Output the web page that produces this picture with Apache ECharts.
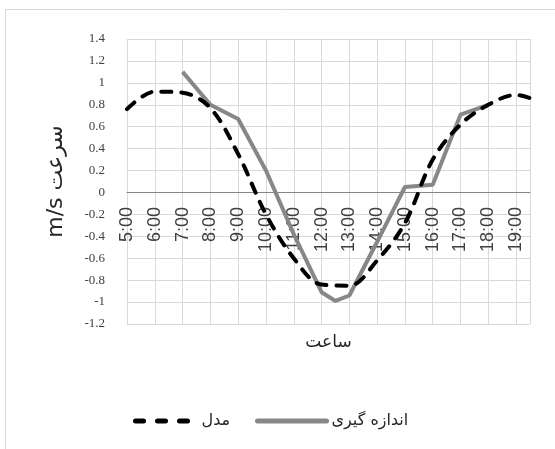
<!DOCTYPE html>
<html>
<head>
<meta charset="utf-8">
<script src="https://cdn.jsdelivr.net/npm/echarts@6/dist/echarts.min.js"></script>
<style>
  html, body { margin: 0; padding: 0; background: #fff; }
  #chart { width: 555px; height: 449px; }
</style>
</head>
<body>
<div id="chart"></div>
<script>
// ساعت (hours), model = مدل, measured = اندازه گیری
const modelHours = [5, 6, 7, 8, 9, 10, 11, 12, 13, 14, 15, 16, 17, 18, 19, 19.5];
const modelValues = [0.76, 0.92, 0.91, 0.77, 0.35, -0.2, -0.6, -0.84, -0.85, -0.62, -0.28, 0.3, 0.62, 0.8, 0.89, 0.86];

const measuredHours = [7, 8, 9, 10, 11, 12, 12.5, 13, 14, 15, 16, 17, 18];
const measuredValues = [1.1, 0.8, 0.67, 0.2, -0.38, -0.91, -0.99, -0.94, -0.45, 0.05, 0.07, 0.71, 0.8];

const yTicks = [-1.2, -1, -0.8, -0.6, -0.4, -0.2, 0, 0.2, 0.4, 0.6, 0.8, 1, 1.2, 1.4];

const chart = echarts.init(document.getElementById('chart'), null, { renderer: 'canvas' });

const pairs = (xs, ys) => xs.map((x, i) => [x, ys[i]]);

const legendText = { fontFamily: 'DejaVu Sans', fontSize: 16, color: '#262626' };

// distance (px) from the plot bottom up to the y = 0 line
const zeroOffset = 132;

const option = {
  animation: false,
  graphic: [
    {
      type: 'rect',
      shape: { x: 5.5, y: 9.5, width: 600, height: 500 },
      style: { fill: 'none', stroke: '#d9d9d9', lineWidth: 1 },
      silent: true
    }
  ],
  grid: { left: 127, right: 25, top: 39, bottom: 125, outerBoundsMode: 'none', containLabel: false },
  legend: [
    {
      data: ['مدل'],
      left: 128,
      top: 408,
      itemWidth: 57,
      itemHeight: 14,
      itemStyle: { opacity: 0 },
      lineStyle: { color: '#000', width: 5, type: [8, 14], cap: 'round' },
      textStyle: Object.assign({ padding: [0, 0, 0, 4] }, legendText)
    },
    {
      data: ['اندازه گیری'],
      left: 250,
      top: 408,
      itemWidth: 69,
      itemHeight: 14,
      itemStyle: { opacity: 0 },
      lineStyle: { color: '#878787', width: 5, cap: 'round' },
      textStyle: legendText
    }
  ],
  xAxis: {
    type: 'value',
    min: 5,
    max: 19.5,
    interval: 1,
    position: 'bottom',
    offset: -zeroOffset,
    name: 'ساعت',
    nameLocation: 'middle',
    nameGap: 142,
    nameTextStyle: { fontFamily: 'DejaVu Sans', fontSize: 17, color: '#262626' },
    axisLine: { onZero: false, lineStyle: { color: '#868686', width: 1 } },
    axisTick: { show: false },
    axisLabel: {
      rotate: 90,
      margin: 15,
      fontFamily: 'Liberation Sans',
      fontSize: 18,
      color: '#404040',
      showMaxLabel: false,
      formatter: v => (Number.isInteger(v) ? v + ':00' : '')
    },
    splitLine: { show: true, lineStyle: { color: '#d9d9d9', width: 1 } }
  },
  yAxis: {
    type: 'value',
    min: yTicks[0],
    max: yTicks[yTicks.length - 1],
    interval: 0.2,
    name: 'm/s سرعت',
    nameLocation: 'middle',
    nameGap: 60,
    nameTextStyle: { fontFamily: 'DejaVu Sans', fontSize: 22, color: '#262626' },
    axisLine: { show: false },
    axisTick: { show: false },
    axisLabel: {
      margin: 22,
      fontFamily: 'Liberation Serif',
      fontSize: 13,
      color: '#404040',
      formatter: v => String(Math.round(v * 10) / 10)
    },
    splitLine: { show: true, lineStyle: { color: '#d9d9d9', width: 1 } }
  },
  series: [
    {
      name: 'مدل',
      type: 'line',
      data: pairs(modelHours, modelValues),
      smooth: 0.35,
      symbol: 'none',
      lineStyle: { color: '#000', width: 4, type: [10, 10], cap: 'round' },
      itemStyle: { color: '#000' },
      z: 3
    },
    {
      name: 'اندازه گیری',
      type: 'line',
      data: pairs(measuredHours, measuredValues),
      symbol: 'none',
      lineStyle: { color: '#878787', width: 4 },
      itemStyle: { color: '#878787' },
      z: 2
    }
  ]
};

chart.setOption(option);
</script>
</body>
</html>
